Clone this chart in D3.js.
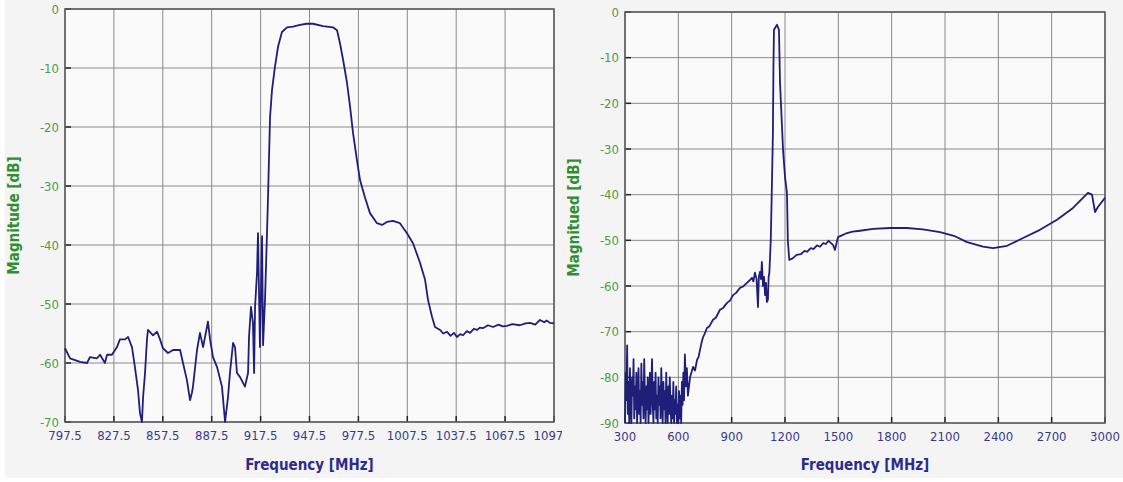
<!DOCTYPE html>
<html>
<head>
<meta charset="utf-8">
<script src="https://cdn.jsdelivr.net/npm/d3@7"></script>
<style>
  html, body { margin: 0; padding: 0; background: #ffffff; }
  svg { display: block; }
  .tick-y { fill: #4c9c4c; font-size: 13px; }
  .tick-x { fill: #3a3a8c; font-size: 13px; }
  .title-y { fill: #2f8f2f; font-size: 15px; font-weight: bold; }
  .title-x { fill: #2c2c8c; font-size: 15px; font-weight: bold; }
  text { font-family: "Liberation Sans Narrow", "DejaVu Sans Condensed", "Liberation Sans", sans-serif; }
</style>
</head>
<body>
<script>
'use strict';

// left chart: narrow band filter response
const leftFreq = [797.5, 800.6, 806.7, 811.0, 812.8, 817.1, 819.0, 822.0, 823.3, 826.3,
    829.4, 831.2, 834.3, 836.2, 838.6, 840.4, 842.3, 843.5, 844.7, 845.4,
    846.6, 847.8, 848.4, 851.5, 854.0, 855.8, 857.6, 860.7, 863.8, 868.1,
    869.9, 872.3, 874.2, 875.4, 876.0, 878.5, 880.3, 882.2, 884.6, 885.2,
    886.5, 888.3, 890.8, 893.8, 895.7, 897.5, 898.7, 900.6, 901.8, 903.0,
    904.9, 907.9, 909.8, 910.4, 911.6, 912.8, 913.5, 914.1, 915.3, 915.9,
    917.1, 918.4, 919.0, 920.2, 921.4, 922.0, 923.3, 924.5, 926.3, 928.2,
    930.6, 933.7, 937.4, 941.7, 945.8, 949.6, 955.8, 961.9, 964.4, 966.2,
    968.1, 970.5, 972.4, 974.2, 976.6, 978.5, 981.5, 984.6, 988.9, 992.0,
    995.0, 998.7, 1003.0, 1007.3, 1011.0, 1015.3, 1018.4, 1020.2, 1022.7, 1024.5,
    1027.6, 1029.5, 1031.9, 1034.0, 1036.1, 1038.0, 1040.0, 1041.7, 1044.0, 1046.0,
    1048.3, 1050.3, 1052.0, 1053.9, 1057.0, 1060.1, 1063.5, 1066.0, 1068.7, 1072.0,
    1076.6, 1080.0, 1082.8, 1086.0, 1088.9, 1091.5, 1093.0, 1095.0, 1097.5];
const leftDb = [-57.5, -59.2, -59.8, -60.0, -59.0, -59.2, -58.6, -60.0, -58.6, -58.6,
    -57.3, -56.0, -56.0, -55.6, -57.3, -60.7, -64.6, -68.5, -70.0, -65.8,
    -61.7, -56.0, -54.4, -55.3, -54.7, -56.0, -57.5, -58.3, -57.8, -57.8,
    -60.0, -62.9, -66.3, -65.0, -64.0, -57.8, -54.9, -57.3, -53.9, -53.0,
    -56.0, -59.0, -60.7, -64.0, -70.0, -65.8, -61.7, -56.6, -57.3, -61.7,
    -62.4, -64.0, -61.7, -55.6, -50.5, -53.2, -61.7, -50.5, -44.7, -38.0,
    -57.3, -38.5, -57.0, -49.3, -38.2, -32.4, -18.3, -13.7, -9.8, -6.4,
    -3.9, -3.1, -3.0, -2.7, -2.5, -2.5, -2.9, -3.1, -3.6, -5.8,
    -8.6, -12.5, -16.6, -21.0, -25.6, -29.0, -31.9, -34.6, -36.3, -36.6,
    -36.1, -35.9, -36.3, -38.0, -39.7, -43.0, -45.9, -49.3, -52.2, -53.9,
    -54.4, -55.0, -54.7, -55.4, -54.9, -55.6, -55.1, -55.3, -54.6, -54.9,
    -54.2, -54.4, -54.0, -54.1, -53.6, -53.9, -53.5, -53.8, -53.7, -53.4,
    -53.6, -53.3, -53.2, -53.5, -52.7, -53.1, -52.8, -53.2, -53.3];
const leftXTicks = [797.5, 827.5, 857.5, 887.5, 917.5, 947.5, 977.5, 1007.5, 1037.5, 1067.5, 1097.5];
const leftYTicks = [0, -10, -20, -30, -40, -50, -60, -70];

// right chart: wide band sweep
const rightFreq = [300, 304, 308, 312, 316, 320, 324, 328, 332, 336,
    340, 344, 348, 352, 356, 360, 364, 368, 372, 376,
    380, 384, 388, 392, 396, 400, 404, 408, 412, 416,
    420, 424, 428, 432, 436, 440, 444, 448, 452, 456,
    460, 464, 468, 472, 476, 480, 484, 488, 492, 496,
    500, 504, 508, 512, 516, 520, 524, 528, 532, 536,
    540, 544, 548, 552, 556, 560, 564, 568, 572, 576,
    580, 584, 588, 592, 596, 600, 604, 608, 612, 616,
    620, 624, 628, 632, 637, 642, 648, 654, 666, 683,
    694, 705, 714, 722, 730, 739, 748, 761, 775, 795,
    812, 834, 852, 874, 890, 908, 925, 947, 965, 986,
    1000, 1014, 1022, 1031, 1040, 1048, 1053, 1059, 1065, 1070,
    1076, 1082, 1088, 1093, 1098, 1104, 1108, 1112, 1120, 1127,
    1132, 1135, 1138, 1155, 1166, 1172, 1189, 1200, 1211, 1216,
    1224, 1245, 1265, 1290, 1310, 1324, 1345, 1360, 1380, 1397,
    1415, 1430, 1445, 1453, 1470, 1481, 1498, 1520, 1549, 1580,
    1622, 1695, 1791, 1886, 1976, 2072, 2150, 2224, 2314, 2370,
    2449, 2539, 2634, 2730, 2820, 2904, 2927, 2944, 2960, 3000];
const rightDb = [-90, -79, -85, -73, -88, -81, -90, -78, -86, -90,
    -80, -84, -76, -89, -82, -87, -79, -90, -84, -78,
    -88, -83, -90, -77, -86, -81, -89, -76, -84, -90,
    -82, -87, -80, -90, -85, -79, -88, -83, -76, -86,
    -90, -81, -87, -79, -89, -84, -90, -80, -86, -82,
    -89, -78, -85, -90, -81, -87, -83, -90, -79, -86,
    -90, -82, -88, -80, -86, -90, -84, -89, -81, -90,
    -85, -88, -82, -90, -86, -90, -83, -89, -84, -90,
    -81, -86, -79, -85, -75, -82, -78, -84, -80, -77.7,
    -78.5, -76.2, -75.5, -74.0, -72.5, -71.2, -70.5, -69.2, -68.8, -67.4,
    -66.9, -65.2, -64.8, -63.7, -63.2, -62.0, -61.5, -60.4, -60.1, -59.3,
    -58.8, -58.2, -59.0, -57.1, -58.5, -64.6, -58.0, -56.9, -58.5, -54.7,
    -60.0, -58.0, -62.0, -59.3, -63.5, -63.0, -58.0, -57.1, -49.9, -36.8,
    -26.5, -12.0, -3.9, -2.8, -3.9, -15.5, -30.2, -36.1, -39.6, -50.0,
    -54.3, -53.9, -53.2, -53.0, -52.3, -52.5, -51.7, -51.9, -51.1, -51.4,
    -50.6, -50.8, -50.1, -50.4, -51.0, -52.1, -49.3, -48.9, -48.4, -48.1,
    -47.9, -47.5, -47.3, -47.3, -47.6, -48.2, -49.0, -50.4, -51.4, -51.7,
    -51.2, -49.5, -47.7, -45.5, -42.9, -39.6, -40.0, -43.8, -42.7, -40.7];
const rightXTicks = [300, 600, 900, 1200, 1500, 1800, 2100, 2400, 2700, 3000];
const rightYTicks = [0, -10, -20, -30, -40, -50, -60, -70, -80, -90];

const svg = d3.select('body').append('svg')
    .attr('width', 1123)
    .attr('height', 482);

function drawPanel(opt) {
    const g = svg.append('g');
    const clipId = 'clip-' + opt.id;
    svg.append('clipPath').attr('id', clipId)
        .append('rect')
        .attr('x', opt.panel[0]).attr('y', opt.panel[1])
        .attr('width', opt.panel[2]).attr('height', opt.panel[3]);
    g.attr('clip-path', `url(#${clipId})`);

    g.append('rect')
        .attr('x', opt.panel[0]).attr('y', opt.panel[1])
        .attr('width', opt.panel[2]).attr('height', opt.panel[3])
        .attr('fill', '#f4f4f4');

    const x = d3.scaleLinear().domain(opt.xDomain).range([opt.plot.left, opt.plot.right]);
    const y = d3.scaleLinear().domain(opt.yDomain).range([opt.plot.bottom, opt.plot.top]);

    g.append('rect')
        .attr('x', opt.plot.left).attr('y', opt.plot.top)
        .attr('width', opt.plot.right - opt.plot.left)
        .attr('height', opt.plot.bottom - opt.plot.top)
        .attr('fill', '#fafafa');

    // grid
    g.append('g').selectAll('line').data(opt.xTicks).join('line')
        .attr('x1', d => x(d)).attr('x2', d => x(d))
        .attr('y1', opt.plot.top).attr('y2', opt.plot.bottom)
        .attr('stroke', '#8a8a8a').attr('stroke-width', 1);
    g.append('g').selectAll('line').data(opt.yTicks).join('line')
        .attr('x1', opt.plot.left).attr('x2', opt.plot.right)
        .attr('y1', d => y(d)).attr('y2', d => y(d))
        .attr('stroke', '#8a8a8a').attr('stroke-width', 1);

    // small inner tick marks on left and bottom
    g.append('g').selectAll('line').data(opt.xTicks).join('line')
        .attr('x1', d => x(d)).attr('x2', d => x(d))
        .attr('y1', opt.plot.bottom - 6).attr('y2', opt.plot.bottom)
        .attr('stroke', '#222').attr('stroke-width', 1.5);
    g.append('g').selectAll('line').data(opt.yTicks).join('line')
        .attr('x1', opt.plot.left).attr('x2', opt.plot.left + 6)
        .attr('y1', d => y(d)).attr('y2', d => y(d))
        .attr('stroke', '#222').attr('stroke-width', 1.5);

    g.append('rect')
        .attr('x', opt.plot.left).attr('y', opt.plot.top)
        .attr('width', opt.plot.right - opt.plot.left)
        .attr('height', opt.plot.bottom - opt.plot.top)
        .attr('fill', 'none')
        .attr('stroke', '#5a5a5a').attr('stroke-width', 1.5);

    // trace
    const pts = d3.zip(opt.freq, opt.db);
    g.append('path')
        .datum(pts)
        .attr('d', d3.line().x(d => x(d[0])).y(d => y(d[1])))
        .attr('fill', 'none')
        .attr('stroke', '#1f1f7a')
        .attr('stroke-width', 1.8)
        .attr('stroke-linejoin', 'round');

    // tick labels
    g.append('g').selectAll('text').data(opt.yTicks).join('text')
        .attr('class', 'tick-y')
        .attr('x', opt.plot.left - 6)
        .attr('y', d => y(d))
        .attr('dy', '0.35em')
        .attr('text-anchor', 'end')
        .text(d => d === 0 ? '0' : '-' + Math.abs(d));
    g.append('g').selectAll('text').data(opt.xTicks).join('text')
        .attr('class', 'tick-x')
        .attr('x', d => x(d))
        .attr('y', opt.plot.bottom + 18)
        .attr('text-anchor', 'middle')
        .text(d => d);

    // axis titles
    g.append('text')
        .attr('class', 'title-x')
        .attr('x', (opt.plot.left + opt.plot.right) / 2)
        .attr('y', 470)
        .attr('text-anchor', 'middle')
        .text('Frequency [MHz]');
    g.append('text')
        .attr('class', 'title-y')
        .attr('transform', `translate(${opt.yTitleX},${(opt.plot.top + opt.plot.bottom) / 2}) rotate(-90)`)
        .attr('text-anchor', 'middle')
        .text(opt.yTitle);
}

drawPanel({
    id: 'left',
    panel: [5, 0, 557, 478],
    plot: {left: 65, right: 554, top: 9, bottom: 422},
    xDomain: [797.5, 1097.5],
    yDomain: [-70, 0],
    xTicks: leftXTicks,
    yTicks: leftYTicks,
    freq: leftFreq,
    db: leftDb,
    yTitle: 'Magnitude [dB]',
    yTitleX: 19
});

drawPanel({
    id: 'right',
    panel: [562, 0, 561, 478],
    plot: {left: 625, right: 1105, top: 12, bottom: 423},
    xDomain: [300, 3000],
    yDomain: [-90, 0],
    xTicks: rightXTicks,
    yTicks: rightYTicks,
    freq: rightFreq,
    db: rightDb,
    yTitle: 'Magnitued [dB]',
    yTitleX: 579
});
</script>
</body>
</html>
